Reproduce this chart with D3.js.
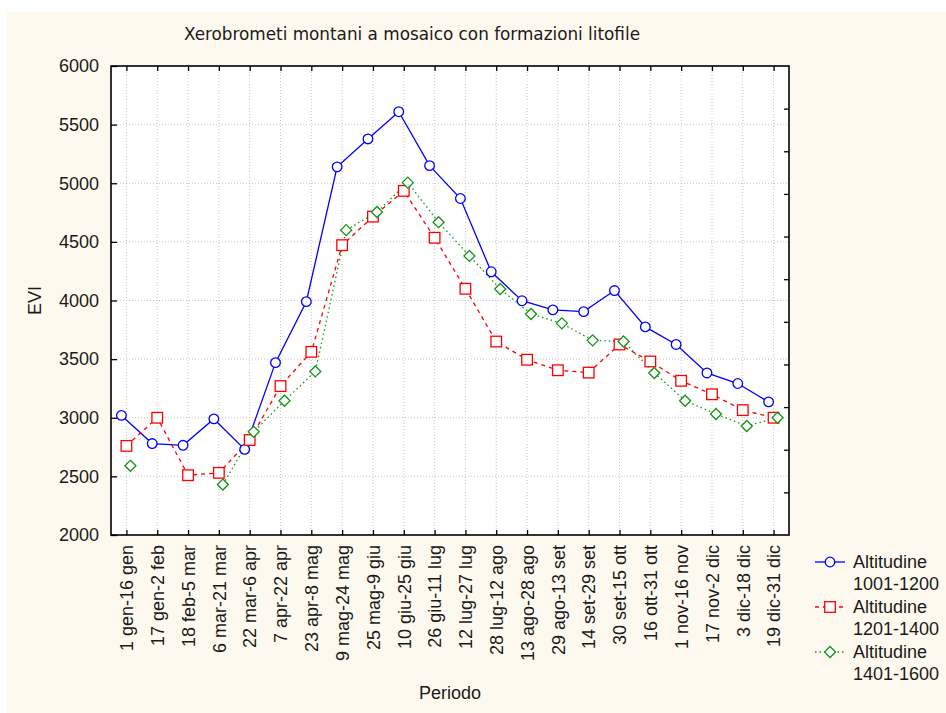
<!DOCTYPE html>
<html>
<head>
<meta charset="utf-8">
<script src="https://cdn.jsdelivr.net/npm/d3@7"></script>
<style>
  html, body { margin: 0; padding: 0; background: #ffffff; }
  svg { display: block; }
  text { font-family: "Liberation Sans", Arial, sans-serif; fill: #1a1a1a; }
</style>
</head>
<body>
<svg id="chart" width="946" height="713"></svg>
<script>
const categories = ["1 gen-16 gen","17 gen-2 feb","18 feb-5 mar","6 mar-21 mar","22 mar-6 apr","7 apr-22 apr","23 apr-8 mag","9 mag-24 mag","25 mag-9 giu","10 giu-25 giu","26 giu-11 lug","12 lug-27 lug","28 lug-12 ago","13 ago-28 ago","29 ago-13 set","14 set-29 set","30 set-15 ott","16 ott-31 ott","1 nov-16 nov","17 nov-2 dic","3 dic-18 dic","19 dic-31 dic"];
const alt1001 = [3020,2780,2765,2990,2730,3470,3990,5140,5378,5610,5150,4870,4245,3998,3920,3905,4085,3775,3625,3382,3292,3135];
const alt1201 = [2760,3000,2510,2530,2810,3270,3562,4472,4715,4935,4535,4100,3650,3495,3405,3385,3625,3480,3315,3200,3065,3000];
const alt1401 = [2590,null,null,2430,2880,3145,3395,4600,4755,5005,4668,4380,4098,3885,3805,3660,3650,3382,3145,3032,2930,3000];
const yTicks = [2000,2500,3000,3500,4000,4500,5000,5500,6000];
const seriesNames = [["Altitudine","1001-1200"],["Altitudine","1201-1400"],["Altitudine","1401-1600"]];
const title = "Xerobrometi montani a mosaico con formazioni litofile";
const xTitle = "Periodo";
const yTitle = "EVI";

const svg = d3.select("#chart");
const W = 946, H = 713;
const plot = {left: 111, right: 789, top: 66, bottom: 535};

// background
svg.append("rect").attr("x", 7).attr("y", 12).attr("width", W - 7).attr("height", H - 12).attr("fill", "#fef9ef");
svg.append("rect").attr("x", plot.left).attr("y", plot.top)
  .attr("width", plot.right - plot.left).attr("height", plot.bottom - plot.top).attr("fill", "#ffffff");

const x = d3.scalePoint().domain(categories).range([plot.left, plot.right]).padding(0.5);
const y = d3.scaleLinear().domain([2000, 6000]).range([plot.bottom, plot.top]);
const yRight = d3.scaleLinear().domain([0, 11]).range([plot.bottom, plot.top]);

// grid
const grid = svg.append("g");
grid.selectAll("line.v").data(categories).join("line")
  .attr("x1", d => x(d)).attr("x2", d => x(d)).attr("y1", plot.top).attr("y2", plot.bottom)
  .attr("stroke", "#c4c4c4").attr("stroke-width", 1).attr("stroke-dasharray", "1,2");
grid.selectAll("line.h").data(yTicks.slice(1, -1)).join("line")
  .attr("x1", plot.left).attr("x2", plot.right).attr("y1", d => y(d)).attr("y2", d => y(d))
  .attr("stroke", "#c4c4c4").attr("stroke-width", 1).attr("stroke-dasharray", "1,2");

// axes
const axL = svg.append("g").attr("transform", `translate(${plot.left},0)`)
  .call(d3.axisLeft(y).tickValues(yTicks).tickSizeInner(-6).tickSizeOuter(0).tickPadding(12).tickFormat(d3.format("d")));
const axB = svg.append("g").attr("transform", `translate(0,${plot.bottom})`)
  .call(d3.axisBottom(x).tickSizeInner(-5).tickSizeOuter(0).tickPadding(10));
const axT = svg.append("g").attr("transform", `translate(0,${plot.top})`)
  .call(d3.axisTop(x).tickSizeInner(-5).tickSizeOuter(0).tickFormat(""));
const axR = svg.append("g").attr("transform", `translate(${plot.right},0)`)
  .call(d3.axisRight(yRight).tickValues(d3.range(1, 11)).tickSizeInner(-5).tickSizeOuter(0).tickFormat(""));
[axL, axB, axT, axR].forEach(a => {
  a.select(".domain").remove();
  a.selectAll(".tick line").attr("stroke", "#000").attr("stroke-width", 1.3);
});
axL.selectAll("text").style("font-size", "18px").style("font-family", "'Liberation Sans', Arial, sans-serif").attr("fill", "#1a1a1a");
axB.selectAll("text")
  .style("font-size", "18px").style("font-family", "'Liberation Sans', Arial, sans-serif").attr("fill", "#1a1a1a")
  .attr("transform", "rotate(-90)")
  .attr("text-anchor", "end")
  .attr("dy", "0.35em")
  .attr("x", -10).attr("y", 0);

// frame
svg.append("rect").attr("x", plot.left).attr("y", plot.top)
  .attr("width", plot.right - plot.left).attr("height", plot.bottom - plot.top)
  .attr("fill", "none").attr("stroke", "#000").attr("stroke-width", 1.6);

// series
const series = [
  {vals: alt1001, color: "#0000ff", dash: null, shape: "circle", off: -5},
  {vals: alt1201, color: "#ff0000", dash: "4,4", shape: "square", off: 0},
  {vals: alt1401, color: "#139413", dash: "1.5,3", shape: "diamond", off: 4}
];

function marker(g, shape, color) {
  if (shape === "circle") {
    g.append("circle").attr("r", 4.8).attr("fill", "#fff").attr("stroke", color).attr("stroke-width", 1.3);
  } else if (shape === "square") {
    g.append("rect").attr("x", -5.3).attr("y", -5.3).attr("width", 10.6).attr("height", 10.6)
      .attr("fill", "#fff").attr("stroke", color).attr("stroke-width", 1.3);
  } else {
    g.append("path").attr("d", "M0,-5.5L5.5,0L0,5.5L-5.5,0Z")
      .attr("fill", "#fff").attr("stroke", color).attr("stroke-width", 1.3);
  }
}

const clip = svg.append("g");
series.forEach(s => {
  const pts = categories.map((c, i) => ({c, v: s.vals[i]}));
  const line = d3.line().defined(d => d.v != null).x(d => x(d.c) + s.off).y(d => y(d.v));
  clip.append("path").datum(pts).attr("d", line)
    .attr("fill", "none").attr("stroke", s.color).attr("stroke-width", 1.3)
    .attr("stroke-dasharray", s.dash);
});
series.forEach(s => {
  const pts = categories.map((c, i) => ({c, v: s.vals[i]})).filter(d => d.v != null);
  pts.forEach(d => {
    const g = clip.append("g").attr("transform", `translate(${x(d.c) + s.off},${y(d.v)})`);
    marker(g, s.shape, s.color);
  });
});

// titles
svg.append("text").attr("x", 184).attr("y", 40)
  .attr("textLength", 456).attr("lengthAdjust", "spacingAndGlyphs")
  .style("font-family", "'Liberation Sans Narrow', 'DejaVu Sans Condensed', Arial, sans-serif")
  .style("font-size", "18px").text(title);
svg.append("text").attr("x", (plot.left + plot.right) / 2).attr("y", 699)
  .attr("text-anchor", "middle").style("font-size", "18px").text(xTitle);
svg.append("text").attr("transform", `translate(41,${(plot.top + plot.bottom) / 2}) rotate(-90)`)
  .attr("text-anchor", "middle").style("font-size", "18px").text(yTitle);

// legend
const leg = svg.append("g").attr("transform", "translate(815,562)");
series.forEach((s, i) => {
  const g = leg.append("g").attr("transform", `translate(0,${i * 45})`);
  g.append("line").attr("x1", 0).attr("x2", 30).attr("y1", 0).attr("y2", 0)
    .attr("stroke", s.color).attr("stroke-width", 1.3).attr("stroke-dasharray", s.dash);
  const m = g.append("g").attr("transform", "translate(15,0)");
  marker(m, s.shape, s.color);
  g.append("text").attr("x", 38).attr("y", 0).attr("dy", "0.35em").style("font-size", "18px").text(seriesNames[i][0]);
  g.append("text").attr("x", 38).attr("y", 22).attr("dy", "0.35em").style("font-size", "18px").text(seriesNames[i][1]);
});
</script>
</body>
</html>
